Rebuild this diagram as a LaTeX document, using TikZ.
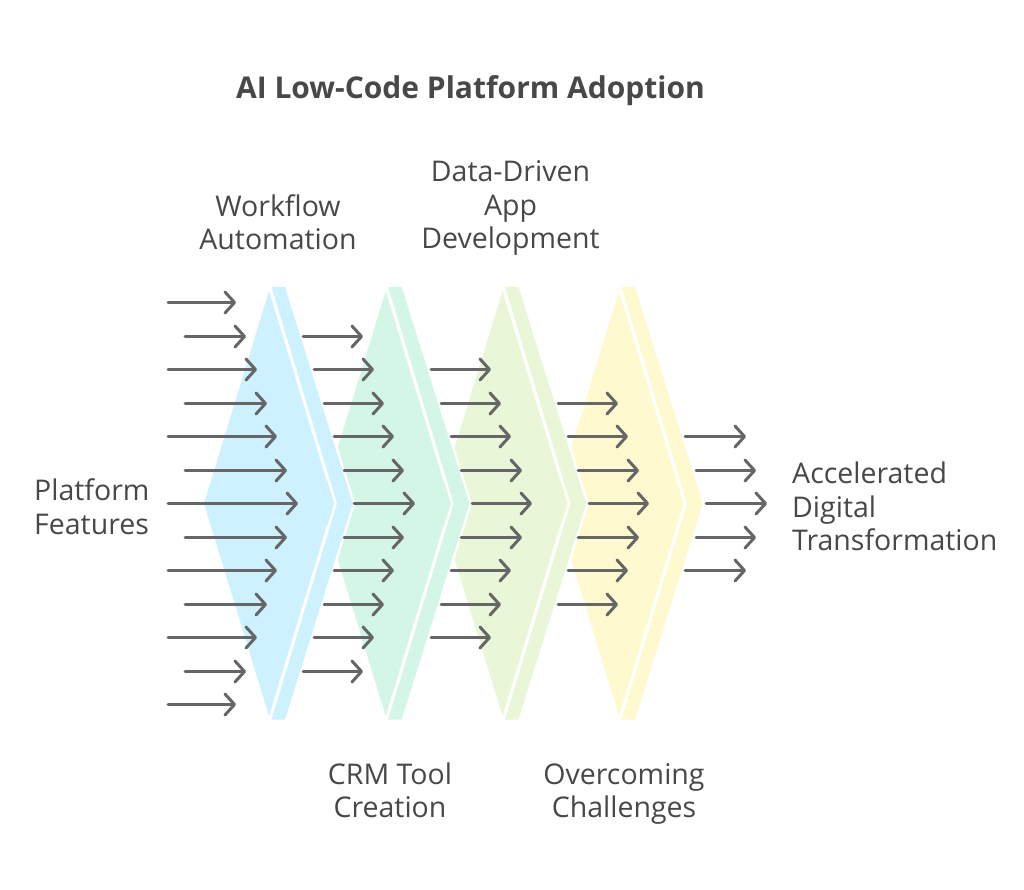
\documentclass[tikz,border=0pt]{standalone}
\usepackage{fontspec}
\setmainfont{Open Sans}
\usetikzlibrary{arrows.meta}
\definecolor{cblue}{HTML}{CDF1FF}
\definecolor{cgreen}{HTML}{D3F6E6}
\definecolor{clime}{HTML}{E9F7D8}
\definecolor{cyellow}{HTML}{FFF9D0}
\definecolor{ink}{HTML}{484848}
\definecolor{arrowgrey}{HTML}{666666}
\tikzset{
  label text/.style={text=ink,font=\fontsize{28.5}{33.5}\selectfont,align=center,inner sep=0pt},
  left text/.style={label text,align=left},
  title text/.style={text=ink,font=\fontsize{30}{33}\selectfont\bfseries,inner sep=0pt},
  flow/.style={draw=arrowgrey,line width=3pt,line cap=round,line join=round,
    -{Straight Barb[length=9.5pt,width=21pt,round]}},
  gap/.style={draw=white,line width=5pt,line join=miter,fill=#1},
}
% \chev{x offset}{colour}
\newcommand{\chev}[2]{%
  \begin{scope}[xshift=#1pt]
    \fill[#2] (269,291) -- (333.5,503.5) -- (269,716) -- (204,503.5) -- cycle;
    \path[gap=#2] (271.5,287) -- (285,287) -- (352.7,503.5) -- (285,719.5) -- (271.5,719.5) -- (337,503.5) -- cycle;
    \fill[#2] (271.5,287) -- (285,287) -- (352.7,503.5) -- (285,719.5) -- (271.5,719.5) -- (337,503.5) -- cycle;
    \fill[white] (271.5,287) -- (269,291) -- (269,287) -- cycle;
  \end{scope}}
% \flowarrow{name}{x0}{x1}{y}
\newcommand{\flowarrow}[4]{%
  \coordinate (#1s) at (#2+1,#4+0.5);
  \coordinate (#1e) at (#3,#4+0.5);
  \draw[flow] (#1s) -- (#1e);}
\begin{document}
\begin{tikzpicture}[x=1pt,y=-1pt]
\useasboundingbox (0,0) rectangle (1024,890);
\fill[white] (0,0) rectangle (1024,890);
\chev{350}{cyellow}
\chev{233.5}{clime}
\chev{116.7}{cgreen}
\chev{0}{cblue}
\foreach \n/\a/\b/\y in {
 a1/167/236/302,a2/184/246/336,a3/167/257/369,a4/184/267/403,a5/167/277/436,a6/184/287/470,a7/167/298/503,a8/184/287/537,a9/167/277/570,a10/184/267/604,a11/167/257/637,a12/184/246/671,a13/167/236/704,
 b1/302/363/336,b2/313/374/369,b3/323/384/403,b4/333/394/436,b5/343/404/470,b6/353/415/503,b7/343/404/537,b8/333/394/570,b9/323/384/604,b10/313/374/637,b11/302/363/671,
 c1/430/491/369,c2/440/501/403,c3/450/511/436,c4/460/522/470,c5/471/532/503,c6/460/522/537,c7/450/511/570,c8/440/501/604,c9/430/491/637,
 d1/557/618/403,d2/567/628/436,d3/577/639/470,d4/588/649/503,d5/577/639/537,d6/567/628/570,d7/557/618/604,
 e1/684/746/436,e2/695/756/470,e3/705/767/503,e4/695/756/537,e5/684/746/570}
 {\flowarrow{\n}{\a}{\b}{\y}}
\node[title text] (title) at (470.5,91) {AI Low-Code Platform Adoption};
\node[label text] (wf) at (278,222) {Workflow\\Automation};
\node[label text] (dd) at (510.5,208) {Data-Driven\\App\\Development};
\node[label text] (crm) at (390,790.5) {CRM Tool\\Creation};
\node[label text] (oc) at (624,794) {Overcoming\\Challenges};
\node[left text,anchor=west] (pf) at (34,506.5) {Platform\\Features};
\node[left text,anchor=west] (ad) at (792,506.5) {Accelerated\\Digital\\Transformation};
\end{tikzpicture}
\end{document}
